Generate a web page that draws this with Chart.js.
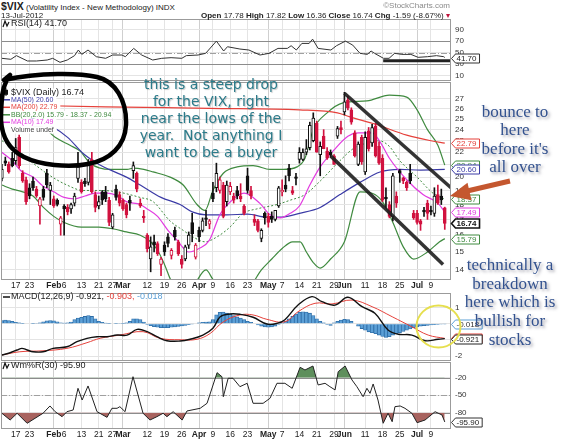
<!DOCTYPE html>
<html>
<head>
<meta charset="utf-8">
<title>$VIX daily</title>
<script src="https://cdn.jsdelivr.net/npm/chart.js@4.4.1/dist/chart.umd.min.js"></script>
<style>
  html, body { margin: 0; padding: 0; background: #fff; }
  body { position: relative; width: 570px; height: 441px; overflow: hidden; font-family: "Liberation Sans", Arial, sans-serif; }
  canvas { position: absolute; left: 0; }
  .hdr { position: absolute; font-size: 8px; line-height: 10px; color: #222; white-space: nowrap; z-index: 10; }
  .note { position: absolute; white-space: nowrap; text-align: center; z-index: 10; }
  .teal { font-family: "DejaVu Sans", Verdana, sans-serif; font-size: 14px; line-height: 17px; color: #2b7b8a; text-shadow: 1px 1px 1px rgba(0,0,0,0.22); }
  .navy { font-family: "Liberation Serif", "Times New Roman", serif; font-size: 17px; color: #33528f; text-shadow: 2px 2px 3px rgba(90,90,110,0.55); }
</style>
</head>
<body>
<div class="hdr" style="left:1px;top:1px;"><b style="font-size:10.5px;">$VIX</b> (Volatility Index - New Methodology) INDX</div>
<div class="hdr" style="left:1px;top:11px;">13-Jul-2012</div>
<div class="hdr" style="right:120px;top:1px;color:#8a8a8a;">&copy;StockCharts.com</div>
<div class="hdr" style="right:120px;top:11px;"><b>Open</b> 17.78 <b>High</b> 17.82 <b>Low</b> 16.36 <b>Close</b> 16.74 <b>Chg</b> -1.59 (-8.67%) <span style="color:#c0143c;">&#9662;</span></div>

<canvas id="rsiChart" width="570" height="64" style="top:18px;width:570px;height:64px;z-index:1;"></canvas>
<canvas id="mainChart" width="570" height="223" style="top:70px;width:570px;height:223px;z-index:2;"></canvas>
<canvas id="macdChart" width="570" height="70" style="top:292px;width:570px;height:70px;z-index:3;"></canvas>
<canvas id="willChart" width="570" height="80" style="top:361px;width:570px;height:80px;z-index:4;"></canvas>

<div class="note teal" style="left:111px;width:200px;top:76px;">this is a steep drop<br>for the VIX, right<br>near the lows of the<br>year.&nbsp; Not anything I<br>want to be a buyer</div>
<div class="note navy" style="left:465px;width:100px;top:103px;line-height:18.3px;">bounce to<br>here<br>before it's<br>all over</div>
<div class="note navy" style="left:460px;width:100px;top:256px;line-height:18.7px;">technically a<br>breakdown<br>here which is<br>bullish for<br>stocks</div>

<script>
// Data: 129 trading days, 10-Jan-2012 .. 13-Jul-2012 (x = day index)
const tickIdx = [4, 8, 15, 18, 23, 28, 32, 35, 42, 47, 52, 57, 61, 66, 71, 77, 81, 86, 91, 96, 99, 105, 110, 115, 120, 124];
const tickLabels = ['17', '23', 'Feb', '6', '13', '21', '27', 'Mar', '12', '19', '26', 'Apr', '9', '16', '23', 'May', '7', '14', '21', '29', 'Jun', '11', '18', '25', 'Jul', '9'];

const open = [
  19.9, 21.3, 21.0, 21.5, 21.3, 23.3, 20.3, 19.8, 19.2, 19.7,
  19.1, 17.9, 19.1, 20.3, 19.0, 18.4, 18.3, 16.7, 17.9, 17.8,
  17.7, 18.1, 19.9, 19.6, 19.7, 19.6, 21.4, 18.7, 17.9, 18.9,
  18.9, 18.3, 16.5, 19.1, 18.7, 18.3, 18.0, 18.3, 20.5, 20.3,
  18.1, 17.2, 16.0, 14.6, 15.6, 15.5, 14.3, 15.4, 15.9, 14.8,
  16.3, 15.6, 14.6, 14.6, 15.4, 16.8, 14.7, 16.3, 16.3, 17.1,
  16.7, 18.8, 19.2, 19.0, 19.4, 18.2, 18.9, 18.6, 19.0, 18.6,
  17.9, 20.1, 19.0, 17.0, 16.9, 15.8, 17.4, 17.2, 17.2, 17.0,
  17.9, 18.9, 19.4, 20.7, 19.0, 20.0, 21.4, 21.4, 22.0, 22.4,
  23.0, 24.6, 21.8, 23.4, 22.1, 22.0, 21.7, 23.4, 24.2, 25.7,
  26.9, 25.9, 23.7, 21.0, 23.3, 20.4, 23.9, 22.8, 24.3, 22.5,
  21.5, 18.5, 18.0, 17.2, 18.6, 20.5, 19.9, 19.6, 20.3, 17.4,
  17.4, 16.9, 17.6, 18.1, 17.6, 17.4, 18.7, 18.6, 17.78
];
const high = [
  21.0, 21.6, 21.2, 22.0, 23.2, 23.5, 20.5, 20.0, 19.5, 20.0,
  19.3, 18.5, 19.3, 20.6, 19.6, 18.6, 18.4, 17.2, 18.0, 18.0,
  18.1, 18.8, 22.0, 19.8, 19.9, 21.4, 22.0, 18.9, 18.6, 19.0,
  19.3, 18.5, 17.4, 19.4, 18.9, 18.4, 18.1, 18.6, 21.2, 20.4,
  18.4, 17.6, 16.1, 15.9, 16.0, 15.6, 14.7, 15.6, 16.1, 15.2,
  16.5, 15.7, 14.8, 15.4, 16.2, 17.4, 15.5, 16.5, 17.1, 17.6,
  17.0, 19.6, 21.1, 20.0, 19.6, 19.7, 19.6, 18.8, 19.3, 19.5,
  18.0, 20.7, 19.3, 17.3, 17.0, 16.4, 17.5, 17.4, 17.5, 17.6,
  19.3, 19.8, 20.1, 21.0, 19.3, 20.3, 22.4, 22.3, 23.1, 24.7,
  25.6, 24.8, 22.9, 24.0, 22.4, 22.2, 21.8, 24.3, 24.8, 27.7,
  27.3, 26.1, 23.9, 22.9, 23.5, 23.8, 24.2, 24.5, 24.6, 22.9,
  21.8, 19.2, 18.2, 20.3, 18.9, 20.6, 20.0, 19.7, 21.0, 17.6,
  17.6, 17.0, 17.8, 18.3, 17.9, 19.2, 19.4, 19.1, 17.82
];
const low = [
  19.7, 20.9, 20.3, 20.8, 21.0, 20.7, 19.6, 18.0, 18.4, 19.0,
  18.5, 16.7, 18.3, 19.2, 18.0, 17.8, 17.9, 16.0, 16.0, 17.3,
  17.4, 17.9, 19.6, 18.8, 19.3, 19.4, 18.8, 17.5, 17.7, 18.0,
  18.2, 16.6, 16.4, 18.3, 17.9, 17.6, 17.1, 17.6, 19.9, 18.9,
  17.8, 16.8, 15.0, 13.9, 15.0, 14.8, 13.7, 14.8, 15.3, 14.6,
  15.7, 14.8, 14.1, 14.5, 15.2, 15.6, 14.6, 15.6, 16.2, 16.6,
  16.4, 18.2, 18.9, 18.8, 17.1, 17.9, 18.7, 18.1, 18.4, 18.2,
  17.3, 18.8, 18.4, 16.6, 16.2, 15.6, 16.7, 16.5, 16.8, 16.9,
  17.8, 18.6, 18.9, 19.7, 18.7, 19.4, 21.1, 21.3, 21.8, 22.2,
  22.9, 22.0, 20.1, 22.3, 21.4, 21.6, 21.0, 23.2, 23.6, 25.4,
  25.9, 24.5, 21.6, 20.9, 21.0, 20.2, 22.1, 22.5, 21.6, 21.0,
  18.2, 17.8, 17.1, 16.9, 17.8, 19.6, 19.5, 19.0, 19.5, 17.0,
  16.7, 16.3, 17.2, 17.0, 17.3, 17.2, 18.0, 18.0, 16.36
];
const close = [
  20.6, 21.1, 20.4, 20.9, 22.4, 20.9, 19.7, 18.2, 18.6, 19.2,
  18.6, 18.4, 18.5, 19.4, 19.4, 17.9, 18.0, 17.1, 17.7, 17.5,
  18.0, 18.6, 20.8, 18.9, 19.5, 21.2, 18.9, 17.8, 18.2, 18.3,
  18.4, 16.8, 17.3, 18.5, 18.1, 17.7, 17.3, 18.1, 20.9, 19.1,
  17.9, 17.1, 15.2, 15.3, 15.4, 14.9, 14.6, 15.0, 15.5, 15.1,
  15.9, 14.9, 14.3, 15.3, 16.0, 16.1, 15.4, 15.9, 16.9, 17.0,
  16.9, 18.4, 20.3, 19.8, 17.2, 19.4, 19.3, 18.3, 18.6, 18.4,
  17.4, 19.0, 18.6, 16.8, 16.3, 16.3, 17.1, 16.8, 17.0, 17.6,
  19.2, 19.0, 19.1, 20.1, 18.8, 19.9, 22.0, 22.0, 22.3, 24.4,
  25.1, 22.0, 22.5, 22.3, 21.5, 21.8, 21.0, 24.1, 24.0, 26.7,
  26.1, 24.7, 21.7, 22.7, 21.2, 23.3, 22.3, 24.2, 21.7, 21.1,
  18.3, 18.4, 17.2, 20.1, 18.1, 20.3, 19.7, 19.2, 19.7, 17.1,
  16.8, 16.7, 17.5, 17.4, 17.5, 18.6, 18.1, 18.33, 16.74
];

// overlays as [day index, value]
const ma10 = [[0, 22.0], [3, 21.3], [5.5, 20.5], [9, 20.0], [12, 19.3], [15, 18.9], [18, 18.5], [21, 18.4], [24, 18.6], [27, 18.8], [30.5, 18.8], [33.5, 18.6], [36, 18.2], [40, 18.0], [42, 17.7], [45, 17.2], [48, 16.3], [50.6, 15.7], [54, 15.0], [57, 15.2], [60, 15.7], [63, 17.3], [66.5, 18.3], [70, 18.8], [74.5, 18.1], [77.5, 17.3], [80.5, 17.1], [83.3, 17.4], [86, 17.9], [89, 19.4], [92, 20.8], [96, 22.2], [100, 23.4], [103, 23.7], [107, 23.7], [109.3, 22.9], [112, 21.5], [117, 19.8], [121.7, 18.7], [126, 18.1], [128, 17.49]];
const ma50 = [[0, 26.2], [5, 25.6], [10, 24.9], [14.5, 24.3], [19, 23.3], [23.5, 21.9], [27.5, 21.1], [31, 20.6], [36, 20.0], [40, 19.4], [46, 18.5], [51.5, 18.0], [55, 17.5], [59, 17.3], [65, 17.3], [71, 17.35], [76.5, 17.15], [81, 17.15], [86, 17.4], [92, 17.8], [97.7, 18.7], [103.5, 19.6], [109.3, 20.4], [115, 20.6], [121, 20.55], [128, 20.6]];
const ma200 = [[0, 26.4], [30, 26.2], [60, 26.05], [86, 25.9], [97, 25.6], [100.6, 25.2], [108, 24.5], [117, 23.5], [124, 23.0], [128, 22.79]];
const bbUpper = [[0, 24.6], [6, 24.5], [10, 24.3], [12, 24.2], [15.4, 23.3], [19.7, 22.6], [22.6, 22.1], [25.5, 21.1], [31.3, 20.6], [36.2, 20.6], [38, 20.7], [41, 20.6], [43.7, 20.4], [48.6, 20.0], [52.4, 19.4], [56.4, 18.0], [58.7, 17.6], [61, 19.0], [64, 20.3], [68, 20.8], [72.6, 20.9], [77.5, 20.6], [81.3, 20.6], [85.3, 20.8], [87.6, 21.5], [90, 24.0], [94, 25.6], [98.6, 26.6], [105.5, 26.8], [112, 27.4], [117, 27.2], [120, 25.9], [123, 24.0], [126, 22.6], [128, 20.94]];
const bbMiddle = [[0, 23.0], [4.4, 22.2], [9, 21.1], [14, 20.1], [18.8, 19.4], [23.5, 19.0], [28.4, 19.0], [33.3, 18.9], [39.9, 18.5], [43.7, 18.2], [48.6, 16.9], [52.4, 16.3], [55.2, 15.9], [58.7, 15.6], [62.2, 15.9], [65.9, 16.5], [69.7, 17.4], [73.7, 17.7], [79.5, 18.0], [83.3, 18.3], [87.6, 18.7], [92, 19.7], [97.7, 21.3], [101.5, 22.3], [105.5, 22.8], [109, 23.0], [112, 22.5], [115, 21.3], [120, 20.0], [124.6, 18.8], [128, 18.37]];
const bbLower = [[0, 19.4], [3, 19.1], [6, 18.9], [9, 18.6], [12, 17.8], [15, 17.2], [18, 16.8], [23, 16.5], [28, 16.5], [32, 16.4], [36, 16.2], [40, 16.0], [43, 15.6], [45, 15.1], [47, 14.3], [49, 13.4], [52, 12.9], [55, 13.1], [59, 14.0], [61, 13.5], [64, 12.9], [68, 12.7], [72, 13.2], [75, 14.0], [78, 14.6], [81, 15.2], [84, 15.6], [86.2, 15.6], [88, 15.0], [90, 14.4], [92, 14.1], [95, 14.6], [99, 15.6], [103.5, 18.9], [107, 18.8], [110, 18.2], [113, 16.8], [116, 15.3], [119, 14.6], [123, 15.0], [126.5, 15.6], [128, 15.79]];
const channelUpper = [[99, 27.6], [129.8, 19.2]];
const channelLower = [[95, 21.7], [127.5, 14.3]];
const lastMain = [22.79, 20.94, 20.60, 18.37, 17.49, 15.79, 16.74];

const rsi = [[0, 40.3], [2.6, 38.6], [4.2, 44.9], [7.4, 35.7], [10, 35.7], [13.1, 37.4], [14.7, 40.3], [16.8, 33.4], [18.9, 37.4], [21, 44.9], [22.1, 54.6], [23.1, 47.1], [24.9, 54.6], [27.3, 43.1], [30, 40.3], [32, 46], [34.7, 46], [35.7, 43.1], [38.1, 57.4], [40.4, 46], [43.6, 37.4], [46.2, 40.3], [48.9, 41.4], [52, 40.3], [53.3, 44.9], [56.7, 46], [58.9, 48.9], [62, 70], [64.1, 52.9], [65.2, 60.3], [68.8, 56.3], [71.4, 54.6], [74.6, 46], [77.2, 48.9], [79.8, 57.4], [82.5, 57.4], [83.6, 62], [85.1, 54.6], [86.7, 66], [88.8, 66], [89.8, 73.4], [91.4, 57.4], [95.1, 54.6], [96.7, 62], [99.3, 70], [101.4, 63.1], [103.5, 48.9], [105.6, 47.1], [106.7, 52.9], [107.7, 48.9], [110.3, 40.3], [111.9, 40.3], [113.5, 48.9], [115.6, 47.1], [118.2, 47.1], [120.3, 42], [123, 43.1], [125.6, 44.9], [127.7, 43.1], [128, 41.7]];
const rsiSupport = [[110.2, 36], [129.8, 36]];
const lastRsi = 41.70;

const macd = [[0, -1.93], [2.4, -1.79], [4.4, -1.62], [5.8, -1.52], [7.3, -1.62], [9, -1.73], [11.9, -1.73], [14.8, -1.52], [18.8, -1.42], [21.7, -1.11], [24.6, -0.9], [27.5, -0.8], [30.4, -0.8], [33.3, -0.7], [36.2, -0.7], [39.1, -0.35], [42, -0.49], [44.8, -0.8], [47.7, -1.05], [51.5, -1.07], [54.4, -0.96], [58.1, -0.7], [61, -0.28], [63.1, 0.43], [65.9, 0.6], [68.8, 0.58], [72.6, 0.4], [76.6, -0.02], [79.5, 0.02], [81.8, 0.25], [85.6, 1.15], [89.6, 1.67], [92.5, 1.36], [96.3, 1.15], [100, 1.63], [104.1, 1.05], [107.8, 0.64], [111.6, -0.39], [114.5, -0.65], [118.5, -0.7], [122.3, -1.05], [126.1, -0.96], [128, -0.921]];
const macdSignal = [[0, -1.93], [5.2, -1.73], [11.9, -1.67], [18.8, -1.52], [24.6, -1.17], [28.4, -0.9], [34.1, -0.7], [40.8, -0.49], [45.7, -0.9], [51.5, -0.99], [56.4, -0.96], [60.2, -0.6], [63.9, 0.1], [68.8, 0.54], [72.6, 0.54], [76.6, 0.27], [81.8, 0.12], [85.6, 0.74], [90.5, 1.26], [95.4, 1.22], [101.2, 1.46], [107, 1.05], [112.8, 0.43], [118.5, -0.19], [123.2, -0.7], [128, -0.903]];
const macdHist = [
  0.2, 0.22, 0.2, 0.15, 0.08, 0.05, 0.02, 0.0, 0.0, 0.02,
  0.03, 0.05, 0.12, 0.18, 0.2, 0.18, 0.12, 0.06, 0.04, 0.05,
  0.1, 0.25, 0.35, 0.4, 0.45, 0.5, 0.45, 0.3, 0.15, 0.08,
  0.04, 0.02, 0.0, 0.02, 0.03, 0.02, 0.05, 0.15, 0.3, 0.3,
  0.25, 0.1, -0.05, -0.12, -0.18, -0.22, -0.24, -0.25, -0.25, -0.22,
  -0.2, -0.17, -0.14, -0.1, -0.06, -0.03, 0.0, 0.05, 0.08, 0.1,
  0.12, 0.25, 0.55, 0.7, 0.72, 0.65, 0.6, 0.5, 0.42, 0.35,
  0.25, 0.15, 0.08, 0.0, -0.08, -0.15, -0.2, -0.22, -0.2, -0.15,
  -0.05, 0.05, 0.15, 0.3, 0.45, 0.6, 0.7, 0.74, 0.72, 0.65,
  0.5, 0.3, 0.15, 0.05, -0.05, -0.1, 0.05, 0.15, 0.22, 0.27,
  0.25, 0.15, 0.0, -0.15, -0.3, -0.4, -0.5, -0.55, -0.62, -0.7,
  -0.78, -0.84, -0.8, -0.7, -0.62, -0.55, -0.48, -0.4, -0.32, -0.25,
  -0.2, -0.15, -0.12, -0.1, -0.08, -0.06, -0.05, -0.03, -0.018
];
const lastMacd = [-0.903, -0.921, -0.018];

const willR = [[0, -81], [2.4, -92.6], [4.4, -81], [7.3, -98.2], [11.9, -81], [13.9, -68.5], [15.4, -78.3], [17.4, -86.9], [18.8, -78.3], [20.6, -75.4], [22, -38.2], [23.2, -58.3], [24.9, -34.2], [27.5, -78.3], [30.4, -88], [31.8, -72.5], [33.3, -72.5], [34.1, -69.7], [35.6, -78.3], [37.9, -18.3], [40.8, -81], [42.8, -92.6], [44.8, -86.9], [46.6, -81], [47.7, -86.9], [49.5, -78.3], [52.1, -92.6], [53.5, -77.1], [57.3, -72.5], [59.3, -63.9], [62.2, -11.4], [63.6, -18.3], [64, -52.6], [65.4, -21], [66.8, -21], [68.8, -35.4], [70.9, -29.6], [72.6, -63.9], [75.5, -63.9], [77.5, -55.3], [79.5, -29.6], [81.8, -29.6], [83.9, -38.2], [86.2, -2.2], [87.6, -6.8], [89.9, 0], [91.4, -32.5], [93.4, -29.6], [94.8, -35.4], [96.3, -41], [97.2, -9.7], [99.2, 0], [101.2, -24], [102.6, -35.4], [104.4, -52.6], [105.5, -38.2], [106.4, -46.8], [107.3, -30.8], [108.7, -58.3], [110.2, -98.2], [111.6, -81], [112.8, -95.5], [113.6, -69.7], [115.1, -68.5], [116.5, -72.5], [118.5, -81], [120, -97.2], [122.3, -92.6], [125.2, -78.3], [127.2, -84], [128, -95.9]];
const lastWillR = -95.90;

// right-hand axis ticks
const priceTicks = [14, 15, 16, 17, 18, 19, 20, 21, 22, 23, 24, 25, 26, 27];
const rsiTicks = [10, 30, 50, 70, 90];
const macdTicks = [1, 0, -1, -2];
const willTicks = [-20, -50, -80];

// Styling
const FONT = '"Liberation Sans", Arial, sans-serif';
const C = {
  up: '#111111', down: '#d1123f', ma50: '#3b3ba6', ma200: '#e5413b', bb: '#3f8a3f', ma10: '#e23ce0',
  hist: '#5b9fd6', histEdge: '#2d6ca6', grid: '#e4e4e4', gridMonth: '#cfcfcf', frame: '#9b9b9b', level: '#8c8c8c'
};
const MAIN_TOP = 70, MACD_TOP = 292;

const pts = a => a.map(([x, y]) => ({ x, y }));
const isMonth = i => /[A-Za-z]/.test(tickLabels[i] || '');

function xAxis(showLabels) {
  return {
    type: 'linear', min: -0.25, max: 129.8, offset: false,
    afterBuildTicks: s => { s.ticks = tickIdx.map(v => ({ value: v })); },
    afterFit: s => { s.height = showLabels ? 12 : 0; s.paddingLeft = 0; s.paddingRight = 0; },
    grid: { offset: false, drawTicks: false, color: c => isMonth(c.index) ? C.gridMonth : C.grid },
    border: { display: false },
    ticks: {
      display: showLabels, autoSkip: false, maxRotation: 0, padding: 0.5, color: '#222',
      font: c => ({ family: FONT, size: 8.5, weight: isMonth(c.index) ? 'bold' : 'normal' }),
      callback: (v, i) => tickLabels[i]
    }
  };
}

function yAxis(ticks, extra) {
  return Object.assign({
    position: 'right',
    afterBuildTicks: s => { s.ticks = ticks.map(v => ({ value: v })); },
    afterFit: s => { s.width = 119; s.paddingTop = 0; s.paddingBottom = 0; },
    grid: { color: C.grid, drawTicks: false },
    border: { display: false },
    ticks: { autoSkip: false, padding: 4, color: '#333', font: { family: FONT, size: 8 }, callback: v => String(v) }
  }, extra);
}

function drawMark(ctx, mark, left, cy) {
  if (!mark) return;
  ctx.save();
  if (mark === 'candle') {
    ctx.fillStyle = '#111';
    ctx.fillRect(left + 4.5, cy - 4, 1, 8);
    ctx.fillRect(left + 3, cy - 2.5, 4, 5);
  } else if (mark === 'icon') {
    ctx.strokeStyle = '#111'; ctx.lineWidth = 1.2;
    ctx.beginPath();
    ctx.moveTo(left + 2, cy + 3); ctx.lineTo(left + 4, cy - 3); ctx.lineTo(left + 6, cy + 2); ctx.lineTo(left + 8, cy - 2);
    ctx.stroke();
  } else {
    ctx.strokeStyle = mark; ctx.lineWidth = 1.5;
    ctx.beginPath(); ctx.moveTo(left + 2, cy); ctx.lineTo(left + 9, cy); ctx.stroke();
  }
  ctx.restore();
}

// reference levels, frame, legend, value boxes and hand drawn notes
function decor(cfg) {
  return {
    id: 'decor',
    beforeDatasetsDraw(chart) {
      const { ctx, chartArea: a, scales: { y } } = chart;
      (cfg.levels || []).forEach(l => {
        const py = Math.round(y.getPixelForValue(l.v)) + 0.5;
        ctx.save();
        ctx.strokeStyle = l.c; ctx.lineWidth = 1; ctx.setLineDash(l.dash || []);
        ctx.beginPath(); ctx.moveTo(a.left, py); ctx.lineTo(a.right, py); ctx.stroke();
        ctx.restore();
      });
    },
    afterDatasetsDraw(chart) {
      const { ctx, chartArea: a, scales: { y } } = chart;
      ctx.save();
      ctx.strokeStyle = C.frame; ctx.lineWidth = 1;
      ctx.strokeRect(a.left + 0.5, a.top + 0.5, a.width - 1, a.height - 1);

      const lg = cfg.legend;
      if (lg) {
        ctx.textBaseline = 'middle'; ctx.textAlign = 'left';
        lg.lines.forEach((ln, k) => {
          ctx.font = (ln.size || lg.size) + 'px ' + FONT;
          const cy = a.top + lg.top + k * lg.gap;
          const w = ln.parts.reduce((s, p) => s + ctx.measureText(p[0]).width, 0);
          if (lg.bg) { ctx.fillStyle = '#fff'; ctx.fillRect(a.left + 1, cy - lg.gap / 2, w + 12, lg.gap); }
          drawMark(ctx, ln.mark, a.left, cy);
          let x = a.left + 10;
          ln.parts.forEach(([t, c]) => { ctx.fillStyle = c; ctx.fillText(t, x, cy); x += ctx.measureText(t).width; });
        });
      }

      ctx.textBaseline = 'middle'; ctx.textAlign = 'left';
      (cfg.boxes || []).forEach(b => {
        const py = Math.round(y.getPixelForValue(b.v)) + 0.5;
        const x0 = a.right + 0.5;
        ctx.font = (b.bold ? 'bold ' : '') + '8px ' + FONT;
        const tw = ctx.measureText(b.t).width;
        ctx.beginPath();
        ctx.moveTo(x0, py);
        ctx.lineTo(x0 + 4, py - 4.5);
        ctx.lineTo(x0 + tw + 8, py - 4.5);
        ctx.lineTo(x0 + tw + 8, py + 4.5);
        ctx.lineTo(x0 + 4, py + 4.5);
        ctx.closePath();
        ctx.fillStyle = '#fff'; ctx.fill();
        ctx.lineWidth = b.bold ? 1.6 : 1; ctx.strokeStyle = b.c; ctx.stroke();
        ctx.fillStyle = b.tc || b.c;
        ctx.fillText(b.t, x0 + 5, py + 0.5);
      });
      ctx.restore();

      if (cfg.extra) { ctx.save(); cfg.extra(ctx, chart); ctx.restore(); }
    }
  };
}

function panel(id, datasets, x, y, padding, cfg) {
  return new Chart(document.getElementById(id), {
    type: 'line',
    data: { datasets },
    options: {
      responsive: false, animation: false, events: [], devicePixelRatio: 1,
      layout: { padding },
      elements: { point: { radius: 0 }, line: { borderWidth: 1.2, tension: 0, fill: false } },
      plugins: { legend: { display: false }, tooltip: { enabled: false } },
      scales: { x, y }
    },
    plugins: [decor(cfg)]
  });
}

// RSI panel
panel('rsiChart', [
  { data: pts(rsiSupport), borderColor: '#222', borderWidth: 3, order: 0 },
  { data: pts(rsi), borderColor: '#333', borderWidth: 1, order: 1 }
], xAxis(false), yAxis(rsiTicks, { min: 1.2, max: 108.1 }), { left: 1, right: 0, top: 1, bottom: 1 }, {
  levels: [{ v: 70, c: C.level }, { v: 50, c: '#a0a0a0', dash: [6, 2, 1, 2] }, { v: 30, c: C.level }],
  legend: { top: 5, gap: 8, size: 9, lines: [{ mark: 'icon', parts: [['RSI(14) ' + lastRsi.toFixed(2), '#222']] }] },
  boxes: [{ v: lastRsi, t: lastRsi.toFixed(2), c: '#333', tc: '#222' }]
});

// price panel
const candleColor = close.map((c, i) => i > 0 && c < close[i - 1] ? C.down : C.up);
const line = (d, color, extra) => Object.assign({ data: pts(d), borderColor: color, borderWidth: 1.2, cubicInterpolationMode: 'monotone' }, extra);

panel('mainChart', [
  { data: pts(channelUpper), borderColor: 'rgba(30,30,30,0.9)', borderWidth: 3.5, order: 0 },
  { data: pts(channelLower), borderColor: 'rgba(30,30,30,0.9)', borderWidth: 3.5, order: 0 },
  {
    type: 'bar', data: close.map((c, i) => ({ x: i, y: [open[i], c] })),
    backgroundColor: close.map((c, i) => c >= open[i] ? '#ffffff' : candleColor[i]),
    borderColor: candleColor, borderWidth: 1, borderSkipped: false, barThickness: 3, minBarLength: 1.5, grouped: false, order: 1
  },
  {
    type: 'bar', data: close.map((c, i) => ({ x: i, y: [low[i], high[i]] })),
    backgroundColor: candleColor, barThickness: 1, grouped: false, order: 2
  },
  line(ma10, C.ma10, { order: 3 }),
  line(ma50, C.ma50, { order: 3 }),
  line(ma200, C.ma200, { order: 3 }),
  line(bbUpper, C.bb, { order: 4 }),
  line(bbMiddle, C.bb, { order: 4, borderDash: [2, 2], borderWidth: 1 }),
  line(bbLower, C.bb, { order: 4 })
], xAxis(true), yAxis(priceTicks, { type: 'logarithmic', min: 13.47, max: 28.82 }), { left: 1, right: 0, top: 12, bottom: 1 }, {
  legend: {
    top: 10.3, gap: 7.5, size: 7, bg: true, lines: [
      { mark: 'candle', size: 9, parts: [['$VIX (Daily) ' + lastMain[6].toFixed(2), '#222']] },
      { mark: C.ma50, parts: [['MA(50) ' + lastMain[2].toFixed(2), C.ma50]] },
      { mark: C.ma200, parts: [['MA(200) ' + lastMain[0].toFixed(2), C.ma200]] },
      { mark: C.bb, parts: [['BB(20,2.0) ' + lastMain[5].toFixed(2) + ' - ' + lastMain[3].toFixed(2) + ' - ' + lastMain[1].toFixed(2), C.bb]] },
      { mark: C.ma10, parts: [['MA(10) ' + lastMain[4].toFixed(2), C.ma10]] },
      { mark: null, parts: [['Volume undef', '#444']] }
    ]
  },
  boxes: [
    { v: lastMain[0], t: lastMain[0].toFixed(2), c: C.ma200 },
    { v: lastMain[1], t: lastMain[1].toFixed(2), c: C.bb },
    { v: lastMain[2], t: lastMain[2].toFixed(2), c: C.ma50 },
    { v: lastMain[3], t: lastMain[3].toFixed(2), c: C.bb },
    { v: lastMain[4], t: lastMain[4].toFixed(2), c: C.ma10 },
    { v: lastMain[5], t: lastMain[5].toFixed(2), c: C.bb },
    { v: lastMain[6], t: lastMain[6].toFixed(2), c: '#111', bold: true }
  ],
  extra: ctx => {
    ctx.translate(0, -MAIN_TOP);
    // hand drawn loop round the legend
    ctx.strokeStyle = '#000'; ctx.lineWidth = 4.5; ctx.lineCap = 'round'; ctx.lineJoin = 'round';
    ctx.beginPath();
    ctx.moveTo(10, 75);
    ctx.lineTo(4, 80);
    ctx.bezierCurveTo(40, 72, 80, 73, 97, 77);
    ctx.bezierCurveTo(115, 81, 127, 100, 126, 125);
    ctx.bezierCurveTo(125, 146, 110, 160, 88, 164);
    ctx.bezierCurveTo(68, 168, 40, 165, 24, 157);
    ctx.bezierCurveTo(10, 150, 2, 138, 1, 120);
    ctx.bezierCurveTo(1, 100, 2, 90, 6, 82);
    ctx.stroke();
    // arrow pointing at the top of the channel
    ctx.strokeStyle = '#c4572f'; ctx.fillStyle = '#c4572f'; ctx.lineWidth = 5; ctx.lineCap = 'butt';
    ctx.beginPath(); ctx.moveTo(510, 181); ctx.lineTo(465, 191.5); ctx.stroke();
    ctx.beginPath(); ctx.moveTo(450, 196); ctx.lineTo(467.5, 182.7); ctx.lineTo(471.5, 200.3); ctx.closePath(); ctx.fill();
  }
});

// MACD panel
panel('macdChart', [
  { data: pts(macd), borderColor: '#111', borderWidth: 1.4, tension: 0.4, order: 0 },
  { data: pts(macdSignal), borderColor: C.ma200, borderWidth: 1, tension: 0.4, order: 1 },
  {
    type: 'bar', data: macdHist.map((v, i) => ({ x: i, y: v })),
    backgroundColor: C.hist, borderColor: C.histEdge, borderWidth: 0.8,
    barPercentage: 1, categoryPercentage: 1, grouped: false, order: 2
  }
], xAxis(false), yAxis(macdTicks, { min: -2.30, max: 1.895 }), { left: 1, right: 0, top: 1, bottom: 1 }, {
  legend: {
    top: 4, gap: 8, size: 9, lines: [{
      mark: '#111', parts: [['MACD(12,26,9) ', '#222'], [lastMacd[1].toFixed(3), '#222'], [', ', '#222'],
        [lastMacd[0].toFixed(3), C.ma200], [', ', C.ma200], [lastMacd[2].toFixed(3), C.hist]]
    }]
  },
  boxes: [
    { v: lastMacd[0], t: lastMacd[0].toFixed(3), c: C.ma200 },
    { v: lastMacd[1], t: lastMacd[1].toFixed(3), c: '#222' },
    { v: lastMacd[2], t: lastMacd[2].toFixed(3), c: C.hist, tc: '#333' }
  ],
  extra: ctx => {
    ctx.translate(0, -MACD_TOP);
    ctx.strokeStyle = '#e6df4e'; ctx.lineWidth = 2;
    ctx.beginPath(); ctx.ellipse(438.5, 326.5, 22, 21, 0, 0, Math.PI * 2); ctx.stroke();
  }
});

// Williams %R panel
panel('willChart', [
  { data: pts(willR), borderColor: '#222', borderWidth: 1, fill: { target: { value: -80 }, above: 'rgba(0,0,0,0)', below: '#a8635f' }, order: 0 },
  { data: pts(willR), borderColor: 'rgba(0,0,0,0)', borderWidth: 0, fill: { target: { value: -20 }, above: '#5e8f5c', below: 'rgba(0,0,0,0)' }, order: 1 }
], xAxis(true), yAxis(willTicks, { min: -108, max: 6.9 }), { left: 1, right: 0, top: 1, bottom: 0 }, {
  levels: [{ v: -20, c: C.level }, { v: -50, c: '#a0a0a0', dash: [6, 2, 1, 2] }, { v: -80, c: C.level }],
  legend: { top: 4, gap: 8, size: 9, lines: [{ mark: 'icon', parts: [['Wm%R(30) ' + lastWillR.toFixed(2), '#222']] }] },
  boxes: [{ v: lastWillR, t: lastWillR.toFixed(2), c: '#333', tc: '#222' }]
});
</script>
</body>
</html>
